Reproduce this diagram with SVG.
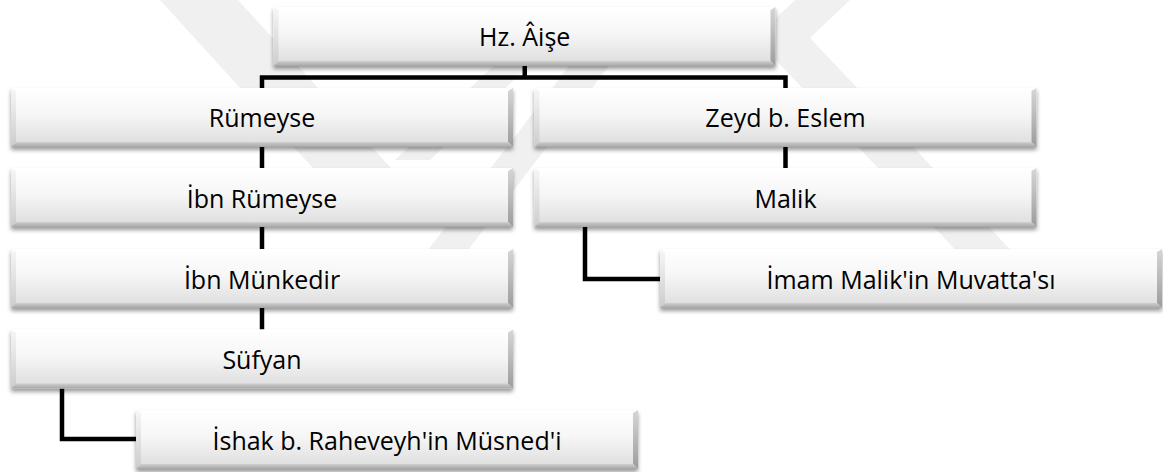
<svg xmlns="http://www.w3.org/2000/svg" xmlns:xlink="http://www.w3.org/1999/xlink" width="1163" height="472" viewBox="0 0 1163 472">
  <style>
    .lbl { font-family: "Open Sans", "Liberation Sans", sans-serif; font-size: 25px; fill: #000; text-anchor: middle; }
    .conn { fill: none; stroke: #000; stroke-width: 4.5; stroke-linejoin: miter; stroke-linecap: butt; }
    .wm { fill: #f0f0f0; }
  </style>
  <defs>
    <linearGradient id="gFill" x1="0" y1="0" x2="0" y2="1">
      <stop offset="0" stop-color="#ffffff"/>
      <stop offset="0.45" stop-color="#f6f6f6"/>
      <stop offset="1" stop-color="#dcdcdc"/>
    </linearGradient>
    <linearGradient id="gLeft" x1="0" y1="0" x2="0" y2="1">
      <stop offset="0" stop-color="#f7f7f7"/>
      <stop offset="1" stop-color="#cccccc"/>
    </linearGradient>
    <linearGradient id="gRight" x1="0" y1="0" x2="0" y2="1">
      <stop offset="0" stop-color="#d6d6d6"/>
      <stop offset="1" stop-color="#9c9c9c"/>
    </linearGradient>
    <linearGradient id="gBottom" x1="0" y1="0" x2="0" y2="1">
      <stop offset="0" stop-color="#cfcfcf"/>
      <stop offset="1" stop-color="#a6a6a6"/>
    </linearGradient>
    <filter id="shadow" x="-3%" y="-15%" width="106%" height="150%">
      <feGaussianBlur in="SourceAlpha" stdDeviation="2.2"/>
      <feOffset dy="3"/>
      <feComponentTransfer>
        <feFuncA type="linear" slope="0.4"/>
      </feComponentTransfer>
      <feMerge>
        <feMergeNode/>
        <feMergeNode in="SourceGraphic"/>
      </feMerge>
    </filter>
    <g id="box">
      <rect x="0" y="0" width="502" height="59" fill="url(#gFill)"/>
      <polygon points="0,0 502,0 497,3 5,3" fill="#ffffff"/>
      <polygon points="0,0 5,3 5,54 0,59" fill="url(#gLeft)"/>
      <polygon points="502,0 502,59 497,54 497,3" fill="url(#gRight)"/>
      <polygon points="0,59 502,59 497,54 5,54" fill="url(#gBottom)"/>
    </g>
  </defs>

  <rect x="0" y="0" width="1163" height="472" fill="#ffffff"/>

  <g id="watermark">
    <polygon class="wm" points="160,0 238,0 420,200 342,200"/>
    <polygon class="wm" points="795,0 850,0 810,38 1058,300 1003,300 755,38"/>
    <polygon class="wm" points="589,40 629,40 445,280 405,280"/>
    <polygon class="wm" points="510,50 545,50 430,160 395,160"/>
  </g>

  <g id="connectors">
    <path class="conn" d="M524.75,65 V77.5"/>
    <path class="conn" d="M262,88 V77.5 H785.5 V88"/>
    <path class="conn" d="M262,147 V168"/>
    <path class="conn" d="M262,227 V249"/>
    <path class="conn" d="M262,308 V330"/>
    <path class="conn" d="M785.5,147 V168"/>
    <path class="conn" d="M585,227 V279 H660"/>
    <path class="conn" d="M62,388 V439 H136"/>
  </g>

  <g id="n-aise">
    <use xlink:href="#box" href="#box" x="273.5" y="7" filter="url(#shadow)"/>
    <text class="lbl" x="524.75" y="46">Hz. Âişe</text>
  </g>
  <g id="n-rumeyse">
    <use xlink:href="#box" href="#box" x="11" y="88" filter="url(#shadow)"/>
    <text class="lbl" x="262" y="127">Rümeyse</text>
  </g>
  <g id="n-zeyd">
    <use xlink:href="#box" href="#box" x="534.5" y="88" filter="url(#shadow)"/>
    <text class="lbl" x="785.5" y="127">Zeyd b. Eslem</text>
  </g>
  <g id="n-ibn-rumeyse">
    <use xlink:href="#box" href="#box" x="11" y="168" filter="url(#shadow)"/>
    <text class="lbl" x="262" y="207.5">İbn Rümeyse</text>
  </g>
  <g id="n-malik">
    <use xlink:href="#box" href="#box" x="534.5" y="168" filter="url(#shadow)"/>
    <text class="lbl" x="785.5" y="207.5">Malik</text>
  </g>
  <g id="n-ibn-munkedir">
    <use xlink:href="#box" href="#box" x="11" y="249" filter="url(#shadow)"/>
    <text class="lbl" x="262" y="288.5">İbn Münkedir</text>
  </g>
  <g id="n-muvatta">
    <use xlink:href="#box" href="#box" x="660" y="249" filter="url(#shadow)"/>
    <text class="lbl" x="911" y="288.5">İmam Malik'in Muvatta'sı</text>
  </g>
  <g id="n-sufyan">
    <use xlink:href="#box" href="#box" x="11" y="329.5" filter="url(#shadow)"/>
    <text class="lbl" x="262" y="369">Süfyan</text>
  </g>
  <g id="n-musned">
    <use xlink:href="#box" href="#box" x="136" y="410" filter="url(#shadow)"/>
    <text class="lbl" x="387" y="449.5">İshak b. Raheveyh'in Müsned'i</text>
  </g>
</svg>
